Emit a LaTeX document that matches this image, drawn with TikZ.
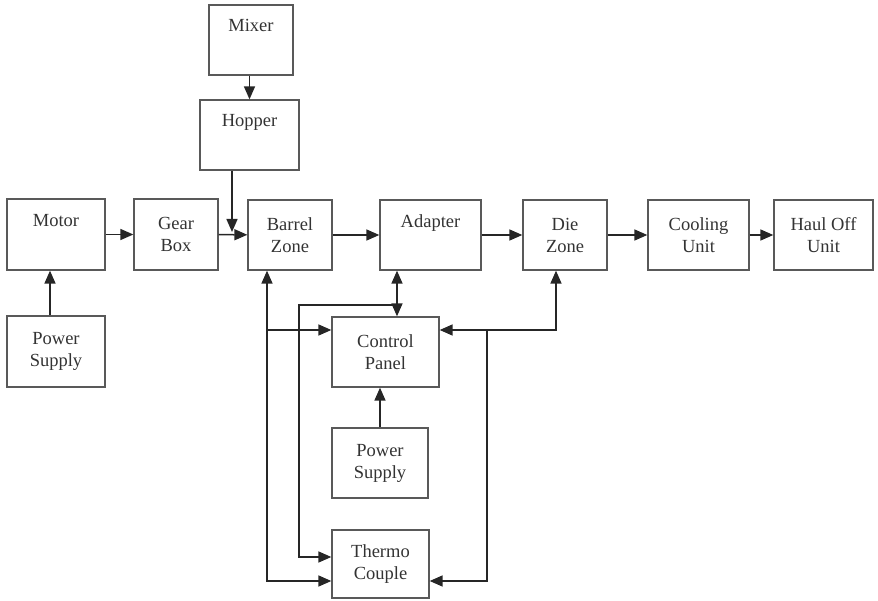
\documentclass[tikz,border=0pt]{standalone}
\usepackage{fontspec}
\setmainfont{Liberation Serif}
\usetikzlibrary{arrows.meta}
\begin{document}
\begin{tikzpicture}[x=1pt,y=-1pt,
  blk/.style={draw=black!65,line width=1.3pt,align=center,inner sep=0pt,
    font=\fontsize{18.5}{22}\selectfont,text=black!80},
  arr/.style={line width=1.5pt,draw=black!85,-{Triangle[length=13pt,width=11pt]}},
  arrs/.style={line width=1.5pt,draw=black!85,
    {Triangle[length=13pt,width=11pt]}-{Triangle[length=13pt,width=11pt]}}]
\useasboundingbox (0,0) rectangle (878,601);
% top feed line
\node[blk,minimum width=84pt,minimum height=70pt] (mixer) at (251,40) {Mixer\\\strut};
\node[blk,minimum width=99pt,minimum height=70pt] (hopper) at (249.5,135) {Hopper\\\strut};
% main line
\node[blk,minimum width=98pt,minimum height=71pt] (motor) at (56,234.5) {Motor\\\strut};
\node[blk,minimum width=84pt,minimum height=71pt] (gearbox) at (176,234.5) {Gear\\Box};
\node[blk,minimum width=84pt,minimum height=70pt] (barrel) at (290,235) {Barrel\\Zone};
\node[blk,minimum width=101pt,minimum height=70pt] (adapter) at (430.5,235) {Adapter\\\strut};
\node[blk,minimum width=84pt,minimum height=70pt] (diezone) at (565,235) {Die\\Zone};
\node[blk,minimum width=101pt,minimum height=70pt] (cooling) at (698.5,235) {Cooling\\Unit};
\node[blk,minimum width=99pt,minimum height=70pt] (hauloff) at (823.5,235) {Haul Off\\Unit};
% supply and control
\node[blk,minimum width=98pt,minimum height=71pt] (supplyA) at (56,351.5) {Power\\Supply};
\node[blk,minimum width=107pt,minimum height=70pt] (control) at (385.5,352) {Control\\Panel};
\node[blk,minimum width=96pt,minimum height=70pt] (supplyB) at (380,463) {Power\\Supply};
\node[blk,minimum width=97pt,minimum height=68pt] (thermo) at (380.5,564) {Thermo\\Couple};

\coordinate (feed) at (232,232);
\coordinate (tapA) at (397,305);
\coordinate (colB) at (299,305);
\coordinate (colA) at ([xshift=-23pt]barrel.south);
\coordinate (colD) at (487,330);

\draw[arr] ([xshift=-1.5pt]mixer.south) -- ([xshift=-1.5pt]mixer.south |- hopper.north);
\draw[arr] (hopper.south -| feed) -- (feed);
\draw[arr] ([xshift=-6pt]supplyA.north) -- ([xshift=-6pt]motor.south);
\draw[arr] (motor) -- (gearbox);
\draw[arr] (gearbox) -- (barrel);
\draw[arr] (barrel) -- (adapter);
\draw[arr] (adapter) -- (diezone);
\draw[arr] (diezone) -- (cooling);
\draw[arr] (cooling) -- (hauloff);
\draw[arr] (supplyB.north) -- (supplyB.north |- control.south);

% sensor and control lines
\draw[arrs] ([xshift=-33.5pt]adapter.south) -- ([xshift=-33.5pt]adapter.south |- control.north);
\draw[arr] (tapA) -- (colB) |- ([yshift=7pt]thermo.west);
\draw[arrs] (colA) |- ([yshift=-17pt]thermo.west);
\draw[arr] (colA |- colD) -- ([yshift=22pt]control.west);
\draw[arrs] ([xshift=-9pt]diezone.south) |- ([yshift=22pt]control.east);
\draw[arr] (colD) |- ([yshift=-17pt]thermo.east);
\end{tikzpicture}
\end{document}
